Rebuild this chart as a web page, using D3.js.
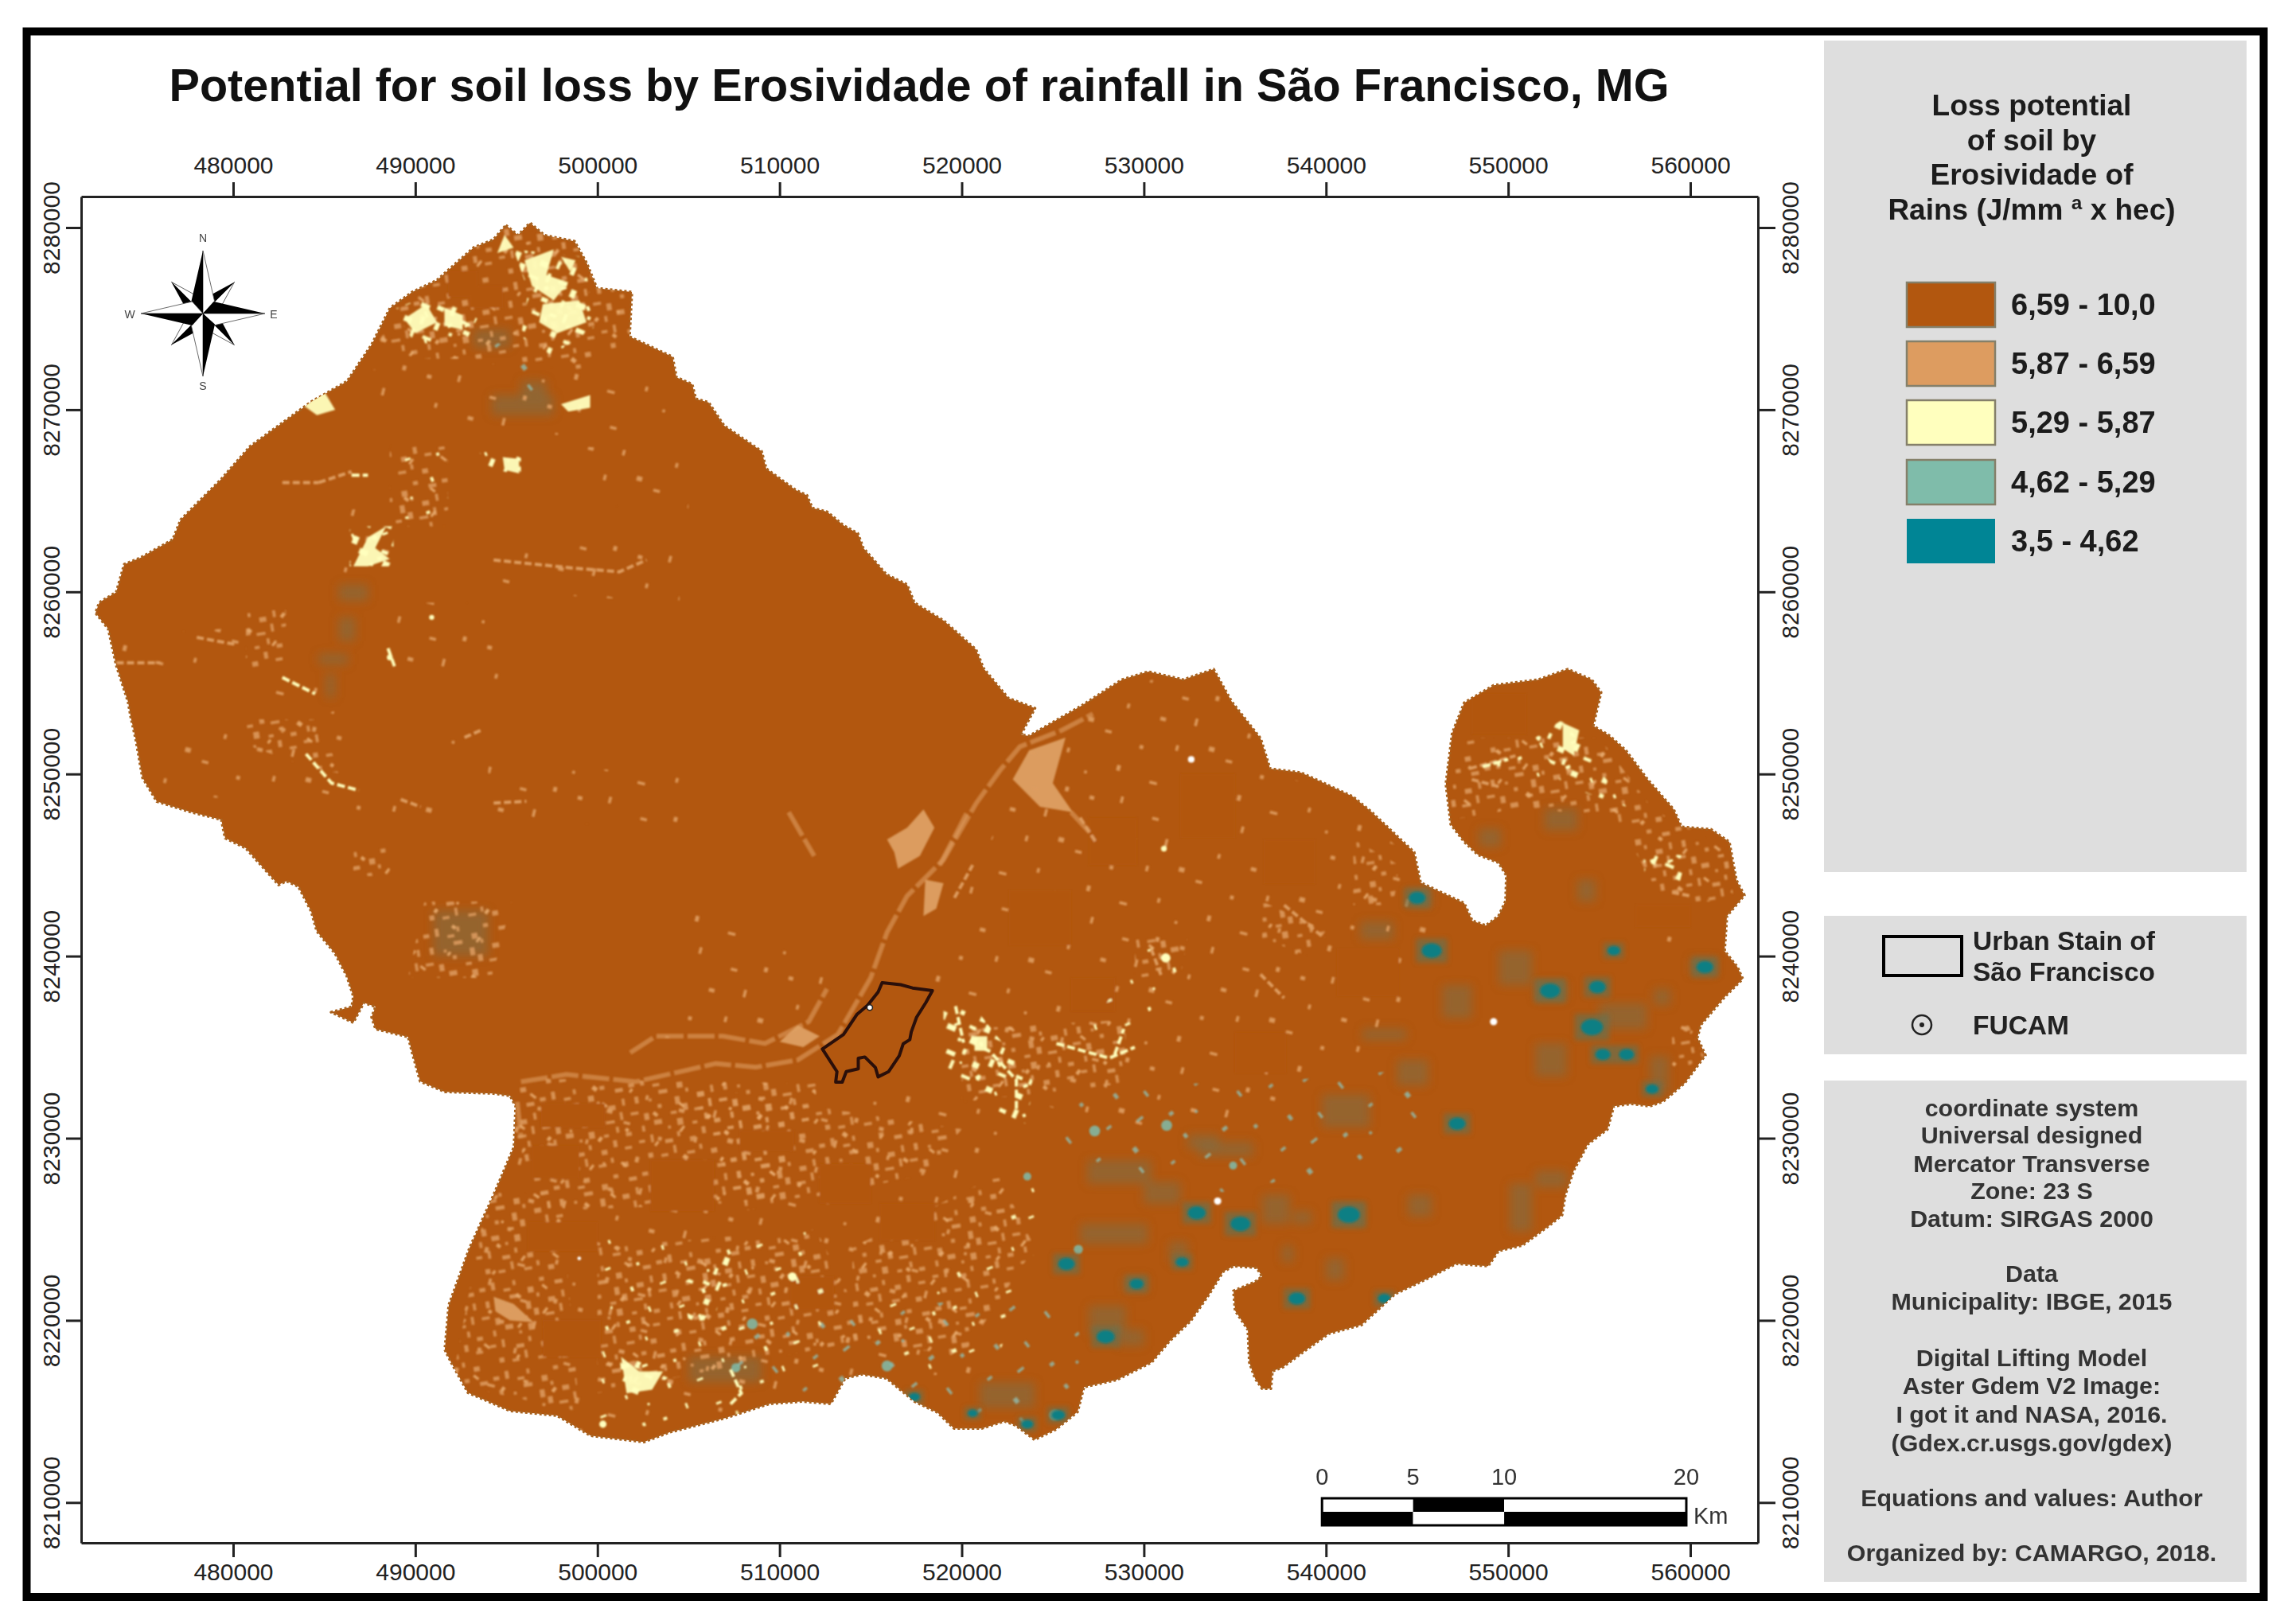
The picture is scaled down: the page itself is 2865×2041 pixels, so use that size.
<!DOCTYPE html>
<html><head><meta charset="utf-8">
<script src="https://cdnjs.cloudflare.com/ajax/libs/d3/7.8.5/d3.min.js"></script>
<style>html,body{margin:0;background:#fff}svg{display:block}text{font-family:"Liberation Sans",Arial,sans-serif}</style>
</head><body><svg id="m" width="2865" height="2041"></svg>
<script>
const titleText = "Potential for soil loss by Erosividade of rainfall in São Francisco, MG";
const eastTicks = [480000,490000,500000,510000,520000,530000,540000,550000,560000];
const northTicks = [8210000,8220000,8230000,8240000,8250000,8260000,8270000,8280000];
const legendTitle = ["Loss potential","of soil by","Erosividade of","Rains (J/mm ª x hec)"];
const classLabels = ["6,59 - 10,0","5,87 - 6,59","5,29 - 5,87","4,62 - 5,29","3,5 - 4,62"];
const classColors = ["#b2570f","#dd9c60","#ffffbe","#7fbcaa","#008595"];
const scaleKm = [0,5,10,20];
const creditLines = ["coordinate system","Universal designed","Mercator Transverse","Zone: 23 S","Datum: SIRGAS 2000","","Data","Municipality: IBGE, 2015","","Digital Lifting Model","Aster Gdem V2 Image:","I got it and NASA, 2016.","(Gdex.cr.usgs.gov/gdex)","","Equations and values: Author","","Organized by: CAMARGO, 2018."];

// Municipality boundary, [easting km, northing km]
const boundary = [[494.97,8280.13],[495.64,8279.58],[496.3,8280.26],[497.08,8279.58],[498.74,8279.25],[499.42,8278.03],[499.97,8276.67],[501.89,8276.46],[501.76,8274.01],[504.12,8272.9],[504.34,8271.78],[505.2,8271.4],[505.4,8270.6],[506.1,8270.4],[506.96,8269.12],[509.01,8267.72],[509.27,8266.76],[510.89,8265.58],[511.5,8265.3],[511.8,8264.6],[512.6,8264.4],[513.51,8263.65],[514.3,8263.2],[514.6,8262.4],[515.87,8260.95],[517,8260.4],[517.4,8259.4],[519.02,8258.41],[520.78,8256.84],[521.2,8255.8],[522.55,8254.17],[524.02,8253.61],[523.25,8252.16],[523.69,8252.08],[526.57,8253.74],[528.8,8255.18],[530.24,8255.62],[532.17,8255.18],[533.83,8255.75],[534.83,8253.96],[536.41,8251.95],[536.93,8250.29],[538.63,8250.07],[541.47,8248.76],[542.48,8247.93],[544.84,8245.7],[545.19,8244.04],[547.59,8242.9],[548.03,8241.94],[548.77,8241.68],[549.47,8242.2],[549.86,8243.03],[549.9,8244.43],[549.47,8245.13],[548.33,8245.57],[547.59,8246.27],[546.85,8247.23],[546.58,8249.46],[546.93,8252.25],[547.59,8253.91],[549.21,8254.87],[551.65,8255.18],[553.27,8255.75],[554.58,8255.18],[555.1,8254.48],[554.67,8252.64],[555.54,8252.12],[556.46,8251.29],[557.64,8249.72],[559.08,8248.06],[559.52,8247.1],[561.13,8246.96],[562.14,8246.27],[562.53,8244.17],[562.97,8243.34],[562.01,8242.2],[561.88,8240.28],[562.58,8239.41],[562.88,8238.75],[561.88,8237.75],[560.57,8236.22],[560.39,8235.52],[560.83,8234.56],[559.69,8233.03],[558.51,8232.02],[557.77,8231.76],[556.76,8231.89],[555.8,8231.76],[555.45,8230.49],[554.36,8229.66],[553.62,8228.27],[553.14,8226.91],[552.96,8225.78],[552.26,8225.21],[550.78,8224.12],[549.47,8223.81],[548.9,8222.98],[547.15,8223.11],[545.54,8222.28],[543.79,8221.45],[541.95,8219.75],[540.16,8219.27],[538.81,8218.31],[537.63,8217.43],[537.06,8217.21],[536.97,8216.25],[536.49,8216.25],[536.1,8216.82],[535.79,8217.69],[535.71,8219.48],[535.01,8220.53],[534.92,8221.62],[536.1,8222.11],[536.49,8222.41],[536.19,8222.89],[534.92,8222.98],[534.35,8222.67],[533.57,8221.41],[532.56,8219.96],[531.42,8218.87],[530.42,8217.69],[528.5,8216.73],[526.71,8216.34],[526.36,8214.98],[525.18,8214.02],[524,8213.45],[522.95,8214.24],[522.34,8214.46],[521.11,8214.07],[519.58,8214.07],[518.67,8214.94],[517.4,8215.55],[515.87,8216.82],[514.52,8217.04],[513.6,8216.82],[512.81,8215.42],[511.28,8215.55],[509.45,8215.42],[507,8214.63],[503.94,8213.85],[502.55,8213.32],[499.62,8213.67],[497.78,8214.77],[495.21,8215.03],[492.89,8216.03],[491.97,8217.69],[491.62,8218.39],[491.84,8220.84],[492.98,8223.98],[494.29,8226.87],[495.42,8229.53],[495.51,8231.76],[495.21,8232.33],[494.29,8232.46],[491.62,8232.55],[490.27,8233.12],[489.83,8234.69],[489.61,8235.56],[487.82,8236],[487.6,8236.65],[487.82,8237.22],[487.17,8237.44],[486.6,8236.35],[485.38,8236.92],[486.51,8237.22],[486.6,8237.79],[486.25,8238.88],[485.59,8240.15],[484.59,8241.37],[484.28,8242.47],[483.58,8243.82],[482.93,8244.12],[482.49,8243.91],[480.7,8245.92],[479.56,8246.48],[479.35,8247.49],[477.6,8247.93],[475.81,8248.49],[475.02,8249.8],[474.67,8251.81],[474.37,8253.17],[474.23,8253.96],[473.58,8255.97],[473.14,8257.97],[472.44,8258.85],[472.66,8259.42],[473.58,8259.98],[474.02,8261.51],[474.89,8261.86],[476.68,8262.87],[477.12,8263.96],[479.35,8266.19],[480.92,8267.98],[484.28,8270.43],[486.25,8271.56],[487.6,8273.57],[488.61,8275.58],[489.83,8276.46],[491.19,8277.11],[493.2,8278.9],[494.29,8279.34]];

const urbanStain = [[515.63,8238.54],[516.64,8238.43],[517.3,8238.25],[518.39,8238.1],[518.03,8237.45],[517.52,8236.64],[517.23,8235.84],[517.15,8235.41],[516.79,8235.19],[516.57,8234.53],[515.99,8233.66],[515.41,8233.37],[515.26,8233.88],[514.68,8234.46],[514.32,8234.39],[514.32,8233.81],[513.66,8233.66],[513.44,8233.08],[513.08,8233.08],[513.15,8233.66],[512.35,8234.9],[513.51,8235.7],[514.24,8236.79],[514.83,8237.3],[515.41,8238.03]];
const fucam = [514.95,8237.18];

const orangeSparse = [
 [[495.6,8232.6],[518,8232.4],[522,8232],[522,8226],[520,8222],[522,8217],[514,8217],[510,8215.5],[500,8213.5],[492,8216.5],[492,8220],[495,8228]],
 [[524,8252],[528.8,8255],[534,8255.5],[537,8250.2],[541,8248.6],[545,8245],[546,8242],[544,8236],[538,8232],[530,8230],[524,8232],[518,8238.5],[521,8245]],
 [[499,8268],[505,8267.5],[505,8264.5],[499,8264.8]],[[494,8263],[504.6,8262.6],[504.5,8259.4],[495,8260]],[[489,8259.4],[495,8259.4],[495,8255],[489,8255]],
 [[476,8252],[486,8253.5],[486,8249],[492,8248],[490,8247],[481,8248.5],[476,8249]],[[473.6,8257.6],[480,8258],[481,8255.8],[474,8255.6]],
 [[494,8250.6],[505,8250],[505,8247],[494,8247.5]],[[486.6,8272],[490,8272.6],[502,8272.4],[504,8270],[501,8268.5],[493,8268.8],[488,8270]],
 [[490.5,8252],[493.6,8252.8],[493.4,8251],[491,8251]],[[505,8243],[512,8240],[514,8238.6],[509,8235.5],[503,8235.5],[505,8239]],[[558,8241.4],[562,8241.6],[561,8240.8],[558,8240.4]],
 [[486,8264.5],[489,8264.6],[489,8261],[486,8261]],[[481,8255.4],[485,8255.4],[485,8254],[481,8254]]
];
const orangeDense = [
 [[495.6,8233.3],[512,8233],[512,8231.5],[509,8226.5],[497,8226],[495.6,8230]],[[492,8216.5],[494,8227],[498,8227],[499,8215]],
 [[488,8273.8],[489.8,8276.5],[493.2,8278.9],[495,8280.1],[498.7,8279.4],[500,8276.7],[501.9,8276.5],[501.8,8273.9],[499,8272],[495,8272.8],[490,8272.8]],
 [[488.6,8268],[491.8,8268],[491.8,8263.6],[488.6,8263.6]],[[480.7,8259],[482.9,8259],[482.9,8255.8],[480.7,8255.8]],[[480.5,8253],[484.5,8253],[486,8250],[484,8250.4],[481,8251.5]],
 [[490.5,8243],[495.3,8243],[494.2,8238.8],[489.6,8238.8]],[[486.6,8246.1],[488.6,8246.1],[488.6,8244.4],[486.6,8244.4]],
 [[546.8,8249],[547.5,8252],[550,8252],[555,8252],[558,8248],[560,8247],[562,8245.8],[562.4,8243],[558.5,8243],[556,8247.5],[551,8248.2],[547,8247.5]],
 [[559,8233.6],[560.8,8234.4],[559.8,8236.4],[559,8235.6]],[[541.5,8246.4],[544,8245],[543.7,8242.8],[541.5,8242.8]],[[536.5,8243],[540,8241.4],[539,8240],[536.5,8241]],[[529.5,8241],[532.4,8241],[532,8238.8],[529.5,8238.8]],
 [[505,8232.8],[520,8230.5],[518,8228],[508,8226]],[[500,8224],[512,8225],[515,8219],[500,8216]],[[520,8236],[529,8236.5],[529,8233],[520,8232]],[[514,8224],[522,8228],[524,8224],[520,8218],[514,8219]]
];
// Solid zones that break up the speckle: [east min, east max, north min, north max] km
const solidZones = [[496.9,500.4,8230.6,8231.9],[496.4,499,8227.8,8229.6],[502.9,506.4,8226,8228.8],[507.8,510.8,8229.3,8230.4],[496.2,500,8223.8,8225.4],[512.2,515,8226.4,8228.6],[515.5,518.5,8224.4,8226.4],[497,500.2,8218,8220],[510.6,513,8220.6,8222.4],[527,529.6,8245,8247.6],[532,535,8246.5,8250],[536.6,539.4,8244,8246.4],[522.6,526,8240.6,8243.6],[526,528.4,8237,8238.8],[535,537.8,8233.6,8235.8],[540.6,544,8237.8,8240.4],[548,551,8252.2,8254.4],[557,560,8241.6,8242.8],[491.8,493.4,8276.2,8277.6],[493,494.8,8275.6,8276.8]];
const yellowAreas = [
 [[496,8278.2],[497.6,8278.8],[497.2,8277.4],[498.4,8277],[497.6,8276],[496.4,8276.8]],[[497,8275.8],[499,8276],[499.4,8274.8],[497.8,8274.2],[496.8,8274.8]],[[498,8278.4],[498.8,8278.2],[498.5,8277.6]],
 [[489.4,8275],[490.6,8275.8],[491.2,8274.8],[490,8274.2]],[[491.6,8275.6],[492.6,8275.2],[492.6,8274.4],[491.6,8274.6]],[[501.3,8218],[502.3,8217.2],[503.6,8217.2],[503,8216.2],[501.6,8216]],[[494.9,8279.6],[495.4,8278.9],[494.5,8278.6]],
 [[483.9,8270.2],[485,8271],[485.6,8270],[484.6,8269.7]],[[498,8270.3],[499.6,8270.8],[499.6,8270.1],[498.4,8269.9]],[[486.6,8261.4],[487.4,8263],[488.4,8263.6],[487.8,8262.4],[488.6,8261.8],[487.4,8261.4]],[[494.8,8267.4],[495.7,8267.3],[495.7,8266.5],[494.9,8266.7]],[[520.7,8235.6],[521.4,8235.6],[521.4,8234.8],[520.7,8234.8]],[[553,8252.8],[553.9,8252.4],[553.6,8251],[553,8251.4]]
];
const yellowDense = [
 [[495.4,8278.8],[499.3,8278.4],[499.8,8274.5],[497.5,8273],[495.8,8274],[496.2,8276.5]],[[488.8,8275.5],[491.5,8276.6],[493.4,8275],[492.8,8273.8],[490,8273.6]],
 [[493.5,8267.7],[495.8,8267.6],[495.8,8266.4],[494,8266.8]],[[519,8237.4],[521,8236.8],[524,8233],[523.5,8230.8],[522,8231.5],[519,8234]],[[553,8253],[556.5,8248.2],[553,8249.4],[551.5,8252]],
 [[557.4,8245.8],[559.8,8245.5],[559.4,8244],[557.5,8244.4]],[[486.4,8263.6],[488.8,8263.6],[488.8,8261.4],[486.4,8261.4]],[[501.2,8218.2],[504,8217],[503,8216],[501.4,8215.8]],[[504.6,8222],[507.4,8223.8],[506.4,8220],[505,8220]]
];
const yellowSparse = [
 [[500,8224.5],[512,8225],[513,8218],[508,8214.6],[500,8214]],[[514,8220],[522,8224],[523.6,8228],[524.8,8226],[522,8218],[517,8217]],[[488.8,8268],[491.8,8268],[491.8,8264],[488.8,8264]],[[549,8251],[553,8251],[553,8249.4],[549,8249.4]],[[529,8235.5],[526,8234],[530,8241],[531.8,8241],[531.8,8238.6]]
];
const tealSparse = [
 [[507,8220],[512,8220],[526,8222],[527,8216],[523,8214],[516,8216],[507,8216]],[[525,8233],[536,8233],[545,8233.8],[545,8229],[534,8227],[526,8228]],[[494,8273.8],[497,8273],[498,8270],[494.4,8269.8]]
];
// Muted mixed zones: [east min, east max, north min, north max] km
const dullZones = [[541.9,543.7,8240.9,8241.9],[549.5,551.3,8238.4,8240.3],[551.5,553.2,8237.6,8238.6],[532.4,534.1,8229.4,8230.2],[526.9,530.4,8227.5,8228.8],[526.5,530.2,8224.2,8225.3],[536.5,538,8225.3,8226.9],[538.2,539.2,8225.3,8226],[540.6,542,8225.3,8226.3],[540,541,8222.2,8223.4],[528.9,530.2,8221.6,8222.4],[543.9,545.6,8232.9,8234.3],[550.1,551.3,8224.9,8227.5],[551.5,553.2,8227.3,8228.2],[537.6,538.2,8223.2,8224.1],[544.5,545.8,8225.7,8226.9],[531.4,532.4,8223.2,8224.3],[544.6,545.8,8242.7,8243.6],[552,553.8,8246.9,8248.1],[548.4,549.6,8246,8247],[553.8,554.8,8243,8244.2],[558,558.9,8237.3,8238.2],[560,561.4,8239,8239.9],[557.8,558.8,8232.5,8234.5],[551.5,553.2,8233.4,8235.2],[542,544.4,8235.4,8236],[527,529,8219.2,8220.8],[521,524,8215.2,8216.6],[528.5,530,8218.6,8219.5],[493.2,495.2,8273.4,8274.4],[494.2,497.6,8269.7,8270.8],[495.8,497.2,8270.6,8271.6],[485.8,486.7,8257.3,8258.6],[484.7,486.3,8256,8256.6],[485.8,487.4,8259.5,8260.4],[485.1,485.6,8254.2,8255.5],[491,494,8240,8242.5],[505,509,8216.6,8218],[539.8,542.4,8230.6,8232.4],[533,536,8229,8229.8],[546.4,548,8236.6,8238.4],[555,557.6,8236,8237.4],[530,532,8226.4,8227.6]];

const riverBands = [
 [[495.8,8233.1],[498.3,8233.5],[502.1,8233.1],[504.3,8233.6],[506.5,8234.1],[508.7,8233.9],[511,8234.3],[513.2,8235.7],[515,8238.8],[515.9,8241.3],[517,8243.3],[519,8245.3],[520.8,8248.4],[522.1,8250.2],[523.2,8251.5],[525.5,8252.4],[527.2,8253.3]],
 [[501.8,8234.7],[503.2,8235.6],[506.9,8235.6],[509.2,8235.2],[511.6,8236.4],[512.6,8238.2]],
 [[495.6,8232],[495.8,8230]],[[518.8,8245],[520.3,8247.9]],[[510.5,8247.9],[511.9,8245.5]],[[526,8247.9],[527.4,8246.4]]
];
const paleAreas = [
 [[523.7,8251.3],[525.7,8252],[525,8249.5],[526.1,8247.9],[524.3,8248.2],[522.8,8249.7]],
 [[517.9,8248.05],[518.5,8247.05],[517.7,8245.5],[516.5,8244.8],[516.3,8245.7],[515.9,8246.4],[517,8247.05]],
 [[518,8244.2],[519,8244],[518.6,8242.6],[517.9,8242.2]],
 [[494.3,8221.3],[495.4,8220.9],[496.5,8219.9],[495.2,8220],[494.4,8220.5]],
 [[510,8235.3],[511.3,8235],[512.2,8235.6],[511,8236.2]]
];
const orangeLines = [
 [[494.3,8261.75],[498.7,8261.3],[501.2,8261.1],[502.7,8261.75]],[[482.7,8266],[484.7,8266]],[[473.6,8256.1],[476,8256.1]],[[478,8257.5],[480.2,8257.1]],[[489.2,8248.6],[490.3,8248.2]],[[494.3,8248.4],[496.1,8248.5]],[[492.7,8252],[493.6,8252.4]],
 [[536.4,8239],[537.7,8237.7]],[[537.7,8242.8],[539.9,8241]],[[559.5,8236.1],[560.1,8235.8]],[[559,8243.5],[560,8243.3]],[[547.9,8250.3],[550.4,8251]],[[548,8249.7],[549.5,8249.3]],[[526.5,8247.6],[527.4,8246.2]],[[519.6,8243.2],[520.6,8245]],[[484.7,8266],[486.5,8266.6]],[[530.4,8240.4],[531,8238.8]]
];
const yellowLines = [
 [[484,8251.1],[485.4,8249.5],[486.9,8249.1]],[[482.7,8255.3],[484.5,8254.4]],[[488.5,8256.9],[488.9,8255.8]],[[486.5,8266.4],[487.4,8266.4]],
 [[525.2,8235.2],[528.1,8234.4],[529.5,8235]],[[528.4,8234.6],[528.9,8236]],[[507.3,8217.3],[507.9,8216],[507.3,8215.4]],[[548.6,8250.4],[550,8250.8]],[[519.66,8237.25],[520.1,8235.25]],[[521.7,8234.6],[523,8233.2],[523,8231.4]]
];
// Spots: [east km, north km, radius km]
const yellowSpots = [[531.2,8239.9,.26],[531.1,8245.9,.16],[490.9,8258.6,.14],[510.7,8222.4,.24],[500.3,8214.3,.2],[488.6,8256.4,.16]];
const whiteSpots = [[532.6,8250.8,.18],[549.2,8236.4,.2],[534.05,8226.55,.2],[499,8223.4,.1]];
const tealSpots = [[531.25,8230.7,.3],[527.3,8230.4,.3],[526.4,8223.9,.25],[523.6,8227.9,.22],[534.9,8228.5,.22],[508.5,8219.8,.3],[515.9,8217.5,.3],[507.6,8217.4,.25],[525.1,8214.8,.3]];
const deepSpots = [[525.75,8223.1,.42],[532.9,8225.9,.45],[535.3,8225.3,.5],[547.2,8230.8,.42],[552.3,8238.1,.5],[554.9,8238.3,.42],[554.6,8236.1,.55],[556.5,8234.6,.38],[555.2,8234.6,.38],[557.9,8232.7,.32],[560.8,8239.4,.42],[545.8,8240.3,.5],[545,8243.2,.42],[555.8,8240.3,.32],[541.25,8225.8,.55],[543.2,8221.2,.32],[538.4,8221.2,.42],[532.1,8223.2,.32],[527.9,8219.1,.45],[525.3,8214.8,.34],[523.6,8214.3,.3],[529.6,8222,.35],[517.4,8215.8,.28],[520.6,8214.9,.25]];

// Hand-placed speck layouts for the raster texture tiles
const tileDense = [[3,5,6,4],[15,1,4,8],[27,9,7,3],[37,2,3,5],[51,11,6,6],[64,3,5,4],[79,8,8,4],[7,19,4,7],[21,23,3,3],[32,16,9,4],[47,25,5,8],[59,18,3,4],[70,24,7,5],[84,19,3,7],[1,34,8,3],[14,37,5,7],[29,30,4,4],[41,39,6,3],[54,33,5,7],[65,39,9,3],[80,32,3,8],[10,49,3,6],[23,45,8,5],[36,53,3,3],[46,47,6,7],[61,52,5,3],[74,46,3,6],[83,53,6,4],[5,63,6,3],[17,59,3,8],[31,66,8,4],[44,60,3,5],[56,67,6,5],[69,59,4,7],[80,67,7,3],[12,77,5,5],[25,80,7,3],[38,73,3,8],[51,81,8,3],[64,76,3,5],[75,82,6,5]];
const tileSparse = [[9,12,5,4],[41,5,3,7],[78,18,7,3],[112,9,4,5],[24,39,3,5],[61,44,6,4],[97,37,3,8],[8,71,7,3],[47,78,4,4],[84,69,3,6],[118,62,6,5],[29,104,4,6],[66,112,8,3],[104,99,3,5],[127,118,3,3]];

const W = 2865, H = 2041;
const svg = d3.select("#m");
const pL=102,pR=2209,pT=247,pB=1939;
const x = d3.scaleLinear().domain([471656,563713]).range([pL,pR]);
const y = d3.scaleLinear().domain([8281704,8207785]).range([pT,pB]);
const pt = d => [x(d[0]*1000), y(d[1]*1000)];
const line = d3.line().x(d=>pt(d)[0]).y(d=>pt(d)[1]);
const poly = d => line(d)+"Z";
const boxX = d => x(d[0]*1000), boxW = d => x(d[1]*1000)-x(d[0]*1000), boxY = d => y(d[3]*1000), boxH = d => y(d[2]*1000)-y(d[3]*1000);
const defs = svg.append("defs");
defs.append("clipPath").attr("id","muni").append("path").attr("d",poly(boundary));
[["b1",1.1],["b2",1.6],["b3",6],["b4",3]].forEach(([id,s])=>defs.append("filter").attr("id",id).attr("x","-5%").attr("y","-5%").attr("width","110%").attr("height","110%").append("feGaussianBlur").attr("stdDeviation",s));
const makeTile = (id,color,size,specks,rot,sc) => {
  const p = defs.append("pattern").attr("id",id).attr("patternUnits","userSpaceOnUse").attr("width",size).attr("height",size).attr("patternTransform",`rotate(${rot}) scale(${sc})`);
  p.selectAll("rect").data(specks).join("rect").attr("x",d=>d[0]).attr("y",d=>d[1]).attr("width",d=>d[2]).attr("height",d=>d[3]).attr("fill",color);
};
makeTile("oS",classColors[1],130,tileSparse,14,1.2);
makeTile("oD",classColors[1],90,tileDense,-9,1.25);
makeTile("oD2","#e8ac70",130,tileSparse,37,1.1);
makeTile("yD",classColors[2],90,tileDense,23,1.45);
makeTile("yS",classColors[2],130,tileSparse,-21,1);
makeTile("tS","#93b3a0",130,tileSparse,52,1.2);

svg.append("rect").attr("width",W).attr("height",H).attr("fill","#fff");
svg.append("rect").attr("x",33.5).attr("y",39.5).attr("width",2811).attr("height",1967.5).attr("fill","none").attr("stroke","#000").attr("stroke-width",10);
svg.append("text").attr("x",1155).attr("y",127).attr("text-anchor","middle").attr("font-size",57.6).attr("font-weight",700).attr("fill","#111").text(titleText);

const panels=[[2292,51,531,1045],[2292,1151,531,174],[2292,1358,531,630]];
svg.selectAll("rect.panel").data(panels).join("rect").attr("class","panel").attr("x",d=>d[0]).attr("y",d=>d[1]).attr("width",d=>d[2]).attr("height",d=>d[3]).attr("fill","#dedede");

// Map
const map = svg.append("g");
map.append("path").attr("d",poly(boundary)).attr("fill",classColors[0]).attr("stroke","#a8621f").attr("stroke-width",3.5).attr("stroke-dasharray","3 3").attr("stroke-linejoin","round");
const inner = map.append("g").attr("clip-path","url(#muni)");
const dull = inner.append("g").attr("filter","url(#b3)");
dull.selectAll("rect").data(dullZones).join("rect").attr("x",boxX).attr("width",boxW).attr("y",boxY).attr("height",boxH).attr("fill","#7d6f48").attr("opacity",.55);
const spk = inner.append("g").attr("filter","url(#b1)");
const region = (data,fill,o) => spk.append("g").selectAll("path").data(data).join("path").attr("d",poly).attr("fill",fill).attr("opacity",o);
spk.append("g").selectAll("path").data(riverBands).join("path").attr("d",line).attr("fill","none").attr("stroke",classColors[1]).attr("stroke-width",6).attr("stroke-opacity",.6).attr("stroke-dasharray","34 5");
spk.append("g").selectAll("path").data(paleAreas).join("path").attr("d",poly).attr("fill","#e0a468").attr("opacity",.9);
region(orangeSparse,"url(#oS)",.95);
region(orangeDense,"url(#oD)",.85);
region(orangeDense,"url(#oD2)",.9);
region(tealSparse,"url(#tS)",.9);
spk.append("g").selectAll("rect").data(solidZones).join("rect").attr("x",boxX).attr("width",boxW).attr("y",boxY).attr("height",boxH).attr("fill",classColors[0]);
region(yellowSparse,"url(#yS)",.95);
region(yellowDense,"url(#yD)",1);
region(yellowDense,"url(#yS)",1);
region(yellowAreas,classColors[2],.95);
spk.append("g").selectAll("path").data(orangeLines).join("path").attr("d",line).attr("fill","none").attr("stroke",classColors[1]).attr("stroke-width",4).attr("stroke-dasharray","9 4");
spk.append("g").selectAll("path").data(yellowLines).join("path").attr("d",line).attr("fill","none").attr("stroke",classColors[2]).attr("stroke-width",4).attr("stroke-dasharray","10 4");
const rpx = k => x(k*1000)-x(0);
spk.selectAll("circle.y").data(yellowSpots).join("circle").attr("class","y").attr("cx",d=>pt(d)[0]).attr("cy",d=>pt(d)[1]).attr("r",d=>rpx(d[2])).attr("fill",classColors[2]);
spk.selectAll("circle.t").data(tealSpots).join("circle").attr("class","t").attr("cx",d=>pt(d)[0]).attr("cy",d=>pt(d)[1]).attr("r",d=>rpx(d[2])).attr("fill",classColors[3]).attr("opacity",.85);
const deepG = inner.append("g");
deepG.append("g").attr("filter","url(#b4)").selectAll("rect").data(deepSpots).join("rect").attr("x",d=>pt(d)[0]-rpx(d[2])*1.7).attr("y",d=>pt(d)[1]-rpx(d[2])*1.3).attr("width",d=>rpx(d[2])*3.4).attr("height",d=>rpx(d[2])*2.6).attr("fill","#5d7458").attr("opacity",.6);
deepG.append("g").attr("filter","url(#b2)").selectAll("ellipse").data(deepSpots).join("ellipse").attr("cx",d=>pt(d)[0]).attr("cy",d=>pt(d)[1]).attr("rx",d=>rpx(d[2])*1.1).attr("ry",d=>rpx(d[2])*.8).attr("fill","#0f7f84");
spk.selectAll("circle.w").data(whiteSpots).join("circle").attr("class","w").attr("cx",d=>pt(d)[0]).attr("cy",d=>pt(d)[1]).attr("r",d=>rpx(d[2])).attr("fill","#fff");
map.append("path").attr("d",poly(urbanStain)).attr("fill",classColors[0]).attr("stroke","#2a0f0a").attr("stroke-width",4).attr("stroke-linejoin","round");
map.append("circle").attr("cx",pt(fucam)[0]).attr("cy",pt(fucam)[1]).attr("r",3.5).attr("fill","#fff").attr("stroke","#222").attr("stroke-width",1.5);

// Axes
const tf = d=>String(d);
const style = g => { g.selectAll("path.domain").attr("stroke","#222").attr("stroke-width",3);
  g.selectAll(".tick line").attr("stroke","#222").attr("stroke-width",3);
  g.selectAll("text").attr("font-size",30).attr("fill","#222").attr("font-family",'"Liberation Sans",Arial,sans-serif'); };
svg.append("g").attr("transform",`translate(0,${pT})`).call(d3.axisTop(x).tickValues(eastTicks).tickFormat(tf).tickSize(18).tickSizeOuter(0).tickPadding(11)).call(style);
svg.append("g").attr("transform",`translate(0,${pB})`).call(d3.axisBottom(x).tickValues(eastTicks).tickFormat(tf).tickSize(18).tickSizeOuter(0).tickPadding(8)).call(style);
svg.append("g").attr("transform",`translate(${pL},0)`).call(d3.axisLeft(y).tickValues(northTicks).tickFormat(tf).tickSize(19).tickSizeOuter(0)).call(style)
  .selectAll("text").attr("x",0).attr("y",0).attr("dy","0.35em").attr("text-anchor","middle").attr("transform","translate(-38,0) rotate(-90)");
svg.append("g").attr("transform",`translate(${pR},0)`).call(d3.axisRight(y).tickValues(northTicks).tickFormat(tf).tickSize(22).tickSizeOuter(0)).call(style)
  .selectAll("text").attr("x",0).attr("y",0).attr("dy","0.35em").attr("text-anchor","middle").attr("transform","translate(40,0) rotate(-90)");

// North arrow
const na = svg.append("g").attr("transform","translate(255,394)");
const star = (len,w,rot) => {
  const g = na.append("g").attr("transform",`rotate(${rot})`);
  g.append("polygon").attr("points",`0,${-len} ${w},${-w*.9} 0,0`).attr("fill","#fff").attr("stroke","#444").attr("stroke-width",.8);
  g.append("polygon").attr("points",`0,${-len} ${-w},${-w*.9} 0,0`).attr("fill","#000");
};
[45,135,225,315].forEach(r=>star(56,13,r));
[[0,79],[90,78],[180,79],[270,78]].forEach(([r,l])=>star(l,15,r));
[["N",0,-95],["S",0,91],["W",-92,1],["E",89,1]].forEach(([t,a,b])=>na.append("text").attr("x",a).attr("y",b+5).attr("text-anchor","middle").attr("font-size",14).attr("fill","#444").attr("font-family","Liberation Serif").text(t));

// Scale bar
const sb0 = 539780;
const sbx = k => x(sb0 + k*1000);
const sbTop = 1883, sbH = 17;
const segs = d3.pairs(scaleKm);
const sb = svg.append("g");
sb.selectAll("rect.t").data(segs).join("rect").attr("class","t").attr("x",d=>sbx(d[0])).attr("width",d=>sbx(d[1])-sbx(d[0])).attr("y",sbTop).attr("height",sbH).attr("fill",(d,i)=>i%2?"#000":"#fff");
sb.selectAll("rect.b").data(segs).join("rect").attr("class","b").attr("x",d=>sbx(d[0])).attr("width",d=>sbx(d[1])-sbx(d[0])).attr("y",sbTop+sbH).attr("height",sbH).attr("fill",(d,i)=>i%2?"#fff":"#000");
sb.append("rect").attr("x",sbx(0)).attr("y",sbTop).attr("width",sbx(20)-sbx(0)).attr("height",2*sbH).attr("fill","none").attr("stroke","#000").attr("stroke-width",3);
sb.selectAll("text").data(scaleKm).join("text").attr("x",d=>sbx(d)).attr("y",1866).attr("text-anchor","middle").attr("font-size",29).attr("fill","#333").text(d=>d);
svg.append("text").attr("x",2128).attr("y",1915).attr("font-size",29).attr("fill","#333").text("Km");

// Legend
svg.append("g").selectAll("text").data(legendTitle).join("text").attr("x",2553).attr("y",(d,i)=>145+i*43.7).attr("text-anchor","middle").attr("font-size",37).attr("font-weight",700).attr("fill","#1c1c1c").text(d=>d);
const swY=[355,429,503,578,652];
const lg = svg.append("g").selectAll("g").data(classLabels).join("g").attr("transform",(d,i)=>`translate(2396,${swY[i]})`);
lg.append("rect").attr("width",111).attr("height",56).attr("fill",(d,i)=>classColors[i]).attr("stroke",(d,i)=>i==4?"none":"#85806a").attr("stroke-width",2.5);
lg.append("text").attr("x",131).attr("y",41).attr("font-size",38).attr("font-weight",700).attr("fill","#1c1c1c").text(d=>d);
svg.append("rect").attr("x",2367).attr("y",1177).attr("width",98).attr("height",49).attr("fill","none").attr("stroke","#000").attr("stroke-width",4);
[["Urban Stain of",1194],["São Francisco",1233],["FUCAM",1300]].forEach(([t,yy])=>svg.append("text").attr("x",2479).attr("y",yy).attr("font-size",33.5).attr("font-weight",700).attr("fill","#222").text(t));
svg.append("circle").attr("cx",2415).attr("cy",1288).attr("r",12).attr("fill","none").attr("stroke","#222").attr("stroke-width",2.5);
svg.append("circle").attr("cx",2415).attr("cy",1288).attr("r",3).attr("fill","#222");
const creditY=[1393,1427,1463,1497,1532,null,1601,1636,null,1707,1742,1778,1814,null,1883,null,1952];
svg.append("g").selectAll("text").data(creditLines).join("text").attr("x",2553).attr("y",(d,i)=>(creditY[i]||0)+10).attr("text-anchor","middle").attr("font-size",30.4).attr("font-weight",700).attr("fill","#333").text(d=>d);
</script></body></html>
